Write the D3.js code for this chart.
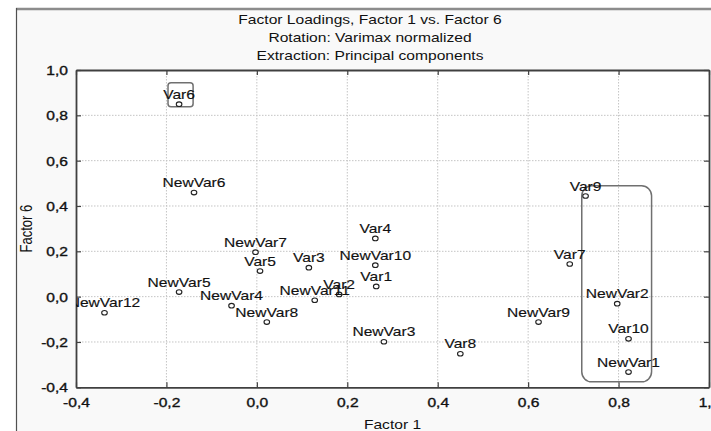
<!DOCTYPE html>
<html>
<head>
<meta charset="utf-8">
<script src="https://cdn.jsdelivr.net/npm/d3@7"></script>
<style>
  html, body { margin: 0; padding: 0; background: #ffffff; }
  svg { display: block; font-family: "Liberation Sans", Arial, sans-serif; }
</style>
</head>
<body>
<svg id="chart" width="711" height="431"></svg>
<script>
// ---- data ----
const titleLines = ["Factor Loadings, Factor 1 vs. Factor 6", "Rotation: Varimax normalized", "Extraction: Principal components"];
const xAxisTitle = "Factor 1";
const yAxisTitle = "Factor 6";
const labels = ["Var1","Var2","Var3","Var4","Var5","Var6","Var7","Var8","Var9","Var10",
                "NewVar1","NewVar2","NewVar3","NewVar4","NewVar5","NewVar6","NewVar7","NewVar8","NewVar9","NewVar10","NewVar11","NewVar12"];
const factor1 = [0.264, 0.182, 0.115, 0.262, 0.007, -0.172, 0.692, 0.450, 0.727, 0.822,
                 0.822, 0.797, 0.281, -0.056, -0.172, -0.139, -0.003, 0.022, 0.623, 0.262, 0.128, -0.337];
const factor6 = [0.045, 0.010, 0.128, 0.257, 0.113, 0.849, 0.144, -0.252, 0.444, -0.186,
                 -0.333, -0.031, -0.199, -0.040, 0.020, 0.459, 0.196, -0.112, -0.112, 0.139, -0.016, -0.071];
const xTicks = [-0.4, -0.2, 0.0, 0.2, 0.4, 0.6, 0.8, 1.0];
const xTickLabels = ["-0,4", "-0,2", "0,0", "0,2", "0,4", "0,6", "0,8", "1,0"];
const yTicks = [-0.4, -0.2, 0.0, 0.2, 0.4, 0.6, 0.8, 1.0];
const yTickLabels = ["-0,4", "-0,2", "0,0", "0,2", "0,4", "0,6", "0,8", "1,0"];
// highlight boxes (in data units): [x0, x1, y0, y1]
const boxX0 = [-0.1965, 0.7186];
const boxX1 = [-0.141, 0.873];
const boxY0 = [0.838, -0.376];
const boxY1 = [0.944, 0.489];

// ---- layout ----
const W = 711, H = 431;
const plot = { left: 76, right: 709, top: 70, bottom: 387.3 };
const STRETCH = 1.2;
const svg = d3.select("#chart");

const x = d3.scaleLinear().domain([-0.4, 1.0]).range([plot.left, plot.right]);
const y = d3.scaleLinear().domain([-0.4, 1.0]).range([plot.bottom, plot.top]);

// outer panel
svg.append("rect").attr("x", 16).attr("y", 9).attr("width", W - 16).attr("height", H - 9).attr("fill", "#f9f9f9");
svg.append("line").attr("x1", 16).attr("x2", W).attr("y1", 9).attr("y2", 9).attr("stroke", "#8c8c8c").attr("stroke-width", 2.5);
svg.append("line").attr("x1", 16.5).attr("x2", 16.5).attr("y1", 8).attr("y2", H).attr("stroke", "#505050").attr("stroke-width", 1.2);

// titles
const titleY = [23.5, 42, 60];
titleLines.forEach((t, i) => {
  svg.append("text")
    .attr("transform", `translate(370,${titleY[i]}) scale(${STRETCH},1)`)
    .attr("text-anchor", "middle")
    .attr("font-size", 13)
    .attr("fill", "#111")
    .text(t);
});

// plot background
svg.append("rect").attr("x", plot.left).attr("y", plot.top)
  .attr("width", plot.right - plot.left).attr("height", plot.bottom - plot.top).attr("fill", "#ffffff");

// gridlines
const grid = svg.append("g");
grid.selectAll(".vg").data(xTicks.slice(1, -1)).enter().append("line")
  .attr("x1", d => x(d)).attr("x2", d => x(d)).attr("y1", plot.top).attr("y2", plot.bottom)
  .attr("stroke", "#c4c4c4").attr("stroke-width", 1).attr("stroke-dasharray", "1.5,1.5");
grid.selectAll(".hg").data(yTicks.slice(1, -1)).enter().append("line")
  .attr("x1", plot.left).attr("x2", plot.right).attr("y1", d => y(d)).attr("y2", d => y(d))
  .attr("stroke", "#c4c4c4").attr("stroke-width", 1).attr("stroke-dasharray", "1.5,1.5");

// axes
const axisColor = "#404040";
const xAxis = d3.axisBottom(x).tickValues(xTicks).tickFormat((d, i) => xTickLabels[i]).tickSize(-5).tickSizeOuter(0);
const yAxis = d3.axisLeft(y).tickValues(yTicks).tickFormat((d, i) => yTickLabels[i]).tickSize(-5).tickSizeOuter(0);
const xTop = d3.axisTop(x).tickValues(xTicks).tickFormat("").tickSize(-5).tickSizeOuter(0);
const yRight = d3.axisRight(y).tickValues(yTicks).tickFormat("").tickSize(-5).tickSizeOuter(0);

function styleAxis(g) {
  g.select(".domain").attr("stroke", axisColor).attr("stroke-width", 1.8);
  g.selectAll(".tick line").attr("stroke", axisColor).attr("stroke-width", 1.2);
}
const gx = svg.append("g").attr("transform", `translate(0,${plot.bottom})`).call(xAxis).call(styleAxis);
gx.selectAll(".tick text")
  .attr("y", 0).attr("dy", null)
  .attr("transform", `translate(0,19.7) scale(${STRETCH},1)`)
  .attr("font-size", 13).attr("fill", "#111")
  .attr("stroke", "#111").attr("stroke-width", 0.35)
  .attr("font-family", "'Liberation Sans', Arial, sans-serif");
const gy = svg.append("g").attr("transform", `translate(${plot.left},0)`).call(yAxis).call(styleAxis);
gy.selectAll(".tick text")
  .attr("x", 0).attr("dy", "0.34em")
  .attr("transform", `translate(-8,0) scale(${STRETCH},1)`)
  .attr("font-size", 13).attr("fill", "#111")
  .attr("stroke", "#111").attr("stroke-width", 0.35)
  .attr("font-family", "'Liberation Sans', Arial, sans-serif");
svg.append("g").attr("transform", `translate(0,${plot.top})`).call(xTop).call(styleAxis);
svg.append("g").attr("transform", `translate(${plot.right},0)`).call(yRight).call(styleAxis);

// axis titles
svg.append("text")
  .attr("transform", `translate(${(plot.left + plot.right) / 2},429) scale(${STRETCH},1)`)
  .attr("text-anchor", "middle").attr("font-size", 13).attr("fill", "#111").text(xAxisTitle);
svg.append("text")
  .attr("transform", `translate(31.5,${(plot.top + plot.bottom) / 2}) rotate(-90) scale(1,${STRETCH})`)
  .attr("text-anchor", "middle").attr("font-size", 13).attr("fill", "#111").text(yAxisTitle);

// clip for plot contents
svg.append("clipPath").attr("id", "plotclip").append("rect")
  .attr("x", plot.left).attr("y", plot.top).attr("width", plot.right - plot.left).attr("height", plot.bottom - plot.top);
const content = svg.append("g").attr("clip-path", "url(#plotclip)");

// highlight boxes
const boxRadius = [3, 10];
boxX0.forEach((bx, i) => {
  content.append("rect")
    .attr("x", x(bx)).attr("y", y(boxY1[i]))
    .attr("width", x(boxX1[i]) - x(bx)).attr("height", y(boxY0[i]) - y(boxY1[i]))
    .attr("rx", boxRadius[i]).attr("ry", boxRadius[i])
    .attr("fill", "none").attr("stroke", "#707070").attr("stroke-width", 1.5);
});

// points and labels
const pts = labels.map((l, i) => ({ label: l, fx: factor1[i], fy: factor6[i] }));
content.selectAll(".pt").data(pts).enter().append("ellipse")
  .attr("cx", d => x(d.fx)).attr("cy", d => y(d.fy))
  .attr("rx", 2.8).attr("ry", 2.3)
  .attr("fill", "#ffffff").attr("stroke", "#222").attr("stroke-width", 1.1);
content.selectAll(".lbl").data(pts).enter().append("text")
  .attr("transform", d => `translate(${x(d.fx)},${y(d.fy) - 5.5}) scale(${STRETCH},1)`)
  .attr("text-anchor", "middle").attr("font-size", 13).attr("fill", "#111")
  .attr("stroke", "#111").attr("stroke-width", 0.15)
  .text(d => d.label);
</script>
</body>
</html>
